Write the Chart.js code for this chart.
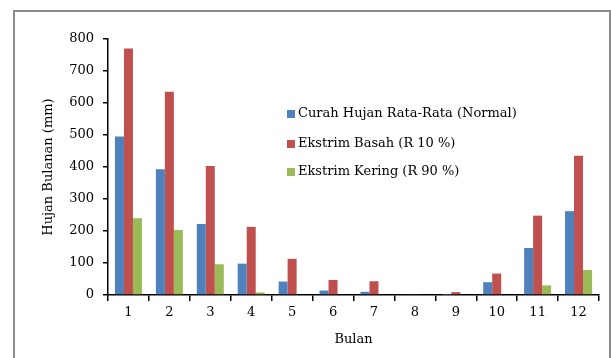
<!DOCTYPE html>
<html>
<head>
<meta charset="utf-8">
<script src="https://cdn.jsdelivr.net/npm/chart.js@4/dist/chart.umd.min.js"></script>
<style>
	html, body { margin: 0; padding: 0; background: #ffffff; }
	#wrap { position: relative; width: 611px; height: 358px; overflow: hidden; }
	#frame { position: absolute; left: 13px; top: 10px; width: 594px; height: 400px; border: 2px solid #8c8c8c; }
	#myChart { position: absolute; left: 0; top: 0; }
</style>
</head>
<body>
<div id="wrap">
	<div id="frame"></div>
	<canvas id="myChart" width="611" height="358"></canvas>
</div>
<script>
var months = ['1', '2', '3', '4', '5', '6', '7', '8', '9', '10', '11', '12'];
var normal = [495, 393, 222, 98, 42, 14, 10, 2, 1, 40, 147, 262];
var wet = [770, 635, 403, 213, 113, 47, 43, 2, 9, 67, 248, 435];
var dry = [240, 203, 96, 8, 0, 0, 0, 0, 0, 0, 30, 78];
var yTicks = [0, 100, 200, 300, 400, 500, 600, 700, 800];

var fontFamily = '"DejaVu Serif", "Liberation Serif", serif';
var textColor = '#000000';

// legend sits inside the plot area, so draw it by hand
var insideLegend = {
	id: 'insideLegend',
	afterDraw: function (chart) {
		var ctx = chart.ctx;
		var x = 287;
		var rows = [114, 144, 172];
		ctx.save();
		ctx.font = '13px ' + fontFamily;
		ctx.textBaseline = 'middle';
		ctx.textAlign = 'left';
		chart.data.datasets.forEach(function (ds, i) {
			ctx.fillStyle = ds.backgroundColor;
			ctx.fillRect(x, rows[i] - 4, 8, 8);
			ctx.fillStyle = textColor;
			ctx.fillText(ds.label, x + 11, rows[i]);
		});
		ctx.restore();
	}
};

var ctx = document.getElementById('myChart').getContext('2d');
new Chart(ctx, {
	type: 'bar',
	data: {
		labels: months,
		datasets: [{
			label: 'Curah Hujan Rata-Rata (Normal)',
			data: normal,
			backgroundColor: '#4f81bd'
		}, {
			label: 'Ekstrim Basah (R 10 %)',
			data: wet,
			backgroundColor: '#c0504d'
		}, {
			label: 'Ekstrim Kering (R 90 %)',
			data: dry,
			backgroundColor: '#9bbb59'
		}]
	},
	options: {
		responsive: false,
		animation: false,
		layout: {
			padding: { top: 39, right: 12, left: 0, bottom: 0 }
		},
		datasets: {
			bar: {
				categoryPercentage: 0.66,
				barPercentage: 1.0
			}
		},
		scales: {
			x: {
				grid: {
					display: true,
					drawOnChartArea: false,
					offset: true,
					tickLength: 6,
					color: '#000000',
					lineWidth: 1.5
				},
				border: { color: '#000000', width: 1.5 },
				ticks: {
					color: textColor,
					padding: 4,
					font: { family: fontFamily, size: 13 }
				},
				title: {
					display: true,
					text: 'Bulan',
					color: textColor,
					padding: { top: 6, bottom: 11 },
					font: { family: fontFamily, size: 13 }
				},
				afterFit: function (scale) {
					scale.height = 63;
				}
			},
			y: {
				min: 0,
				max: 800,
				afterBuildTicks: function (scale) {
					scale.ticks = yTicks.map(function (v) { return { value: v }; });
				},
				grid: {
					display: true,
					drawOnChartArea: false,
					tickLength: 5,
					color: '#000000',
					lineWidth: 1.5
				},
				border: { color: '#000000', width: 1.5 },
				ticks: {
					color: textColor,
					padding: 9,
					font: { family: fontFamily, size: 13 }
				},
				title: {
					display: true,
					text: 'Hujan Bulanan (mm)',
					color: textColor,
					padding: { top: 41, bottom: 4 },
					font: { family: fontFamily, size: 13 }
				},
				afterFit: function (scale) {
					scale.width = 108;
				}
			}
		},
		plugins: {
			legend: { display: false },
			tooltip: { enabled: false }
		}
	},
	plugins: [insideLegend]
});
</script>
</body>
</html>
